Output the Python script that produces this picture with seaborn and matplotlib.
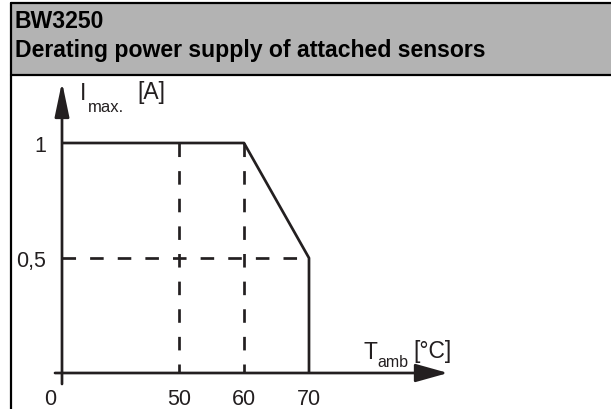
import numpy as np
import matplotlib
matplotlib.use('Agg')
import matplotlib.pyplot as plt
import seaborn as sns
from matplotlib.patches import Rectangle
from matplotlib.lines import Line2D
from matplotlib.transforms import ScaledTranslation

# ---- data ----
curve_temp = [0, 60, 70, 70]
curve_current = [1.0, 1.0, 0.5, 0.0]
guide_temps = [50, 60]
guide_current = 0.5
x_tick_values = [0, 50, 60, 70]
x_tick_labels = ['0', '50', '60', '70']
y_tick_values = [0.5, 1.0]
y_tick_labels = ['0,5', '1']
title_line1 = 'BW3250'
title_line2 = 'Derating power supply of attached sensors'

sns.set_theme(style='white')
plt.rcParams['font.family'] = ['Liberation Sans', 'DejaVu Sans']

INK = '#231f20'
W, H = 611, 410
fig = plt.figure(figsize=(W / 100, H / 100), dpi=100)
fig.patch.set_facecolor('white')


def fx(px):
    return px / W


def fy(py):
    return 1 - py / H


# ---- header frame ----
fig.add_artist(Rectangle((fx(11), fy(76)), 1 - fx(11), (76 - 4.3) / H,
                         transform=fig.transFigure, facecolor='#b3b3b3',
                         edgecolor='none', zorder=0))
fig.add_artist(Line2D([fx(11), 1], [fy(4.3), fy(4.3)], transform=fig.transFigure,
                      color='black', lw=1.6))
fig.add_artist(Line2D([fx(11), 1], [fy(76), fy(76)], transform=fig.transFigure,
                      color='black', lw=1.6))
fig.add_artist(Line2D([fx(11), fx(11)], [fy(3.5), 0], transform=fig.transFigure,
                      color='black', lw=1.6))
fig.text(fx(15), fy(27.5), title_line1, fontsize=16.6, fontweight='bold',
         va='baseline', ha='left', color='black')
fig.text(fx(15), fy(57), title_line2, fontsize=16.6, fontweight='bold',
         va='baseline', ha='left', color='black')


# ---- broken x scale: 0..50 compressed ----
def fwd(x):
    x = np.asarray(x, dtype=float)
    return np.where(x <= 50, x * 18.0 / 50.0, 18.0 + (x - 50.0))


def inv(t):
    t = np.asarray(t, dtype=float)
    return np.where(t <= 18, t * 50.0 / 18.0, 50.0 + (t - 18.0))


ax = fig.add_axes([fx(62), fy(374), (460 - 62) / W, (374 - 82) / H])
ax.set_facecolor('none')
ax.set_xscale('function', functions=(fwd, inv))
ax.set_xlim(0, float(inv((460 - 62) / 6.5)))
ax.set_ylim(0, (374 - 82) / 230)
for s in ax.spines.values():
    s.set_visible(False)

lw = 1.95
dash = (0, (5, 5.2))
for t in guide_temps:
    sns.lineplot(x=[t, t], y=[1.0, 0.0], ax=ax, sort=False, estimator=None,
                 color=INK, lw=lw, linestyle=dash, zorder=2)
sns.lineplot(x=[0, curve_temp[-1]], y=[guide_current, guide_current], ax=ax,
             sort=False, estimator=None, color=INK, lw=lw, linestyle=dash, zorder=2)
sns.lineplot(x=curve_temp, y=curve_current, ax=ax, sort=False, estimator=None,
             color=INK, lw=lw, zorder=3)

# axes arrows
ax.annotate('', xy=(0, (374 - 83) / 230), xytext=(0, -11 / 230),
            arrowprops=dict(arrowstyle='-|>,head_length=21,head_width=4.4',
                            mutation_scale=1, color=INK, lw=lw,
                            shrinkA=0, shrinkB=0), annotation_clip=False)
ax.annotate('', xy=(float(inv((448 - 62) / 6.5)), 0), xytext=(float(inv(-7 / 6.5)), 0),
            arrowprops=dict(arrowstyle='-|>,head_length=20,head_width=5.6',
                            mutation_scale=1, color=INK, lw=lw,
                            shrinkA=0, shrinkB=0), annotation_clip=False)

ax.set_xticks(x_tick_values, x_tick_labels)
ax.set_yticks(y_tick_values, y_tick_labels)
ax.tick_params(axis='both', length=0, labelsize=15.5, colors=INK)
ax.tick_params(axis='x', pad=10.5)
ax.tick_params(axis='y', pad=11.5)
lab0 = ax.get_xticklabels()[0]
lab0.set_transform(lab0.get_transform() + ScaledTranslation(-12 / 100, 0, fig.dpi_scale_trans))
ax.set_xlabel('')
ax.set_ylabel('')

# axis titles
fig.text(fx(80), fy(100), 'I', fontsize=16.5, va='baseline', color=INK)
fig.text(fx(88), fy(112), 'max.', fontsize=12, va='baseline', color=INK)
fig.text(fx(137), fy(99), '[A]', fontsize=16.5, va='baseline', color=INK)
fig.text(fx(363), fy(359), 'T', fontsize=16.5, va='baseline', color=INK)
fig.text(fx(377), fy(367), 'amb', fontsize=11.5, va='baseline', color=INK)
fig.text(fx(413), fy(358), '[°C]', fontsize=16.5, va='baseline', color=INK)

fig.savefig('out.png', dpi=100)
